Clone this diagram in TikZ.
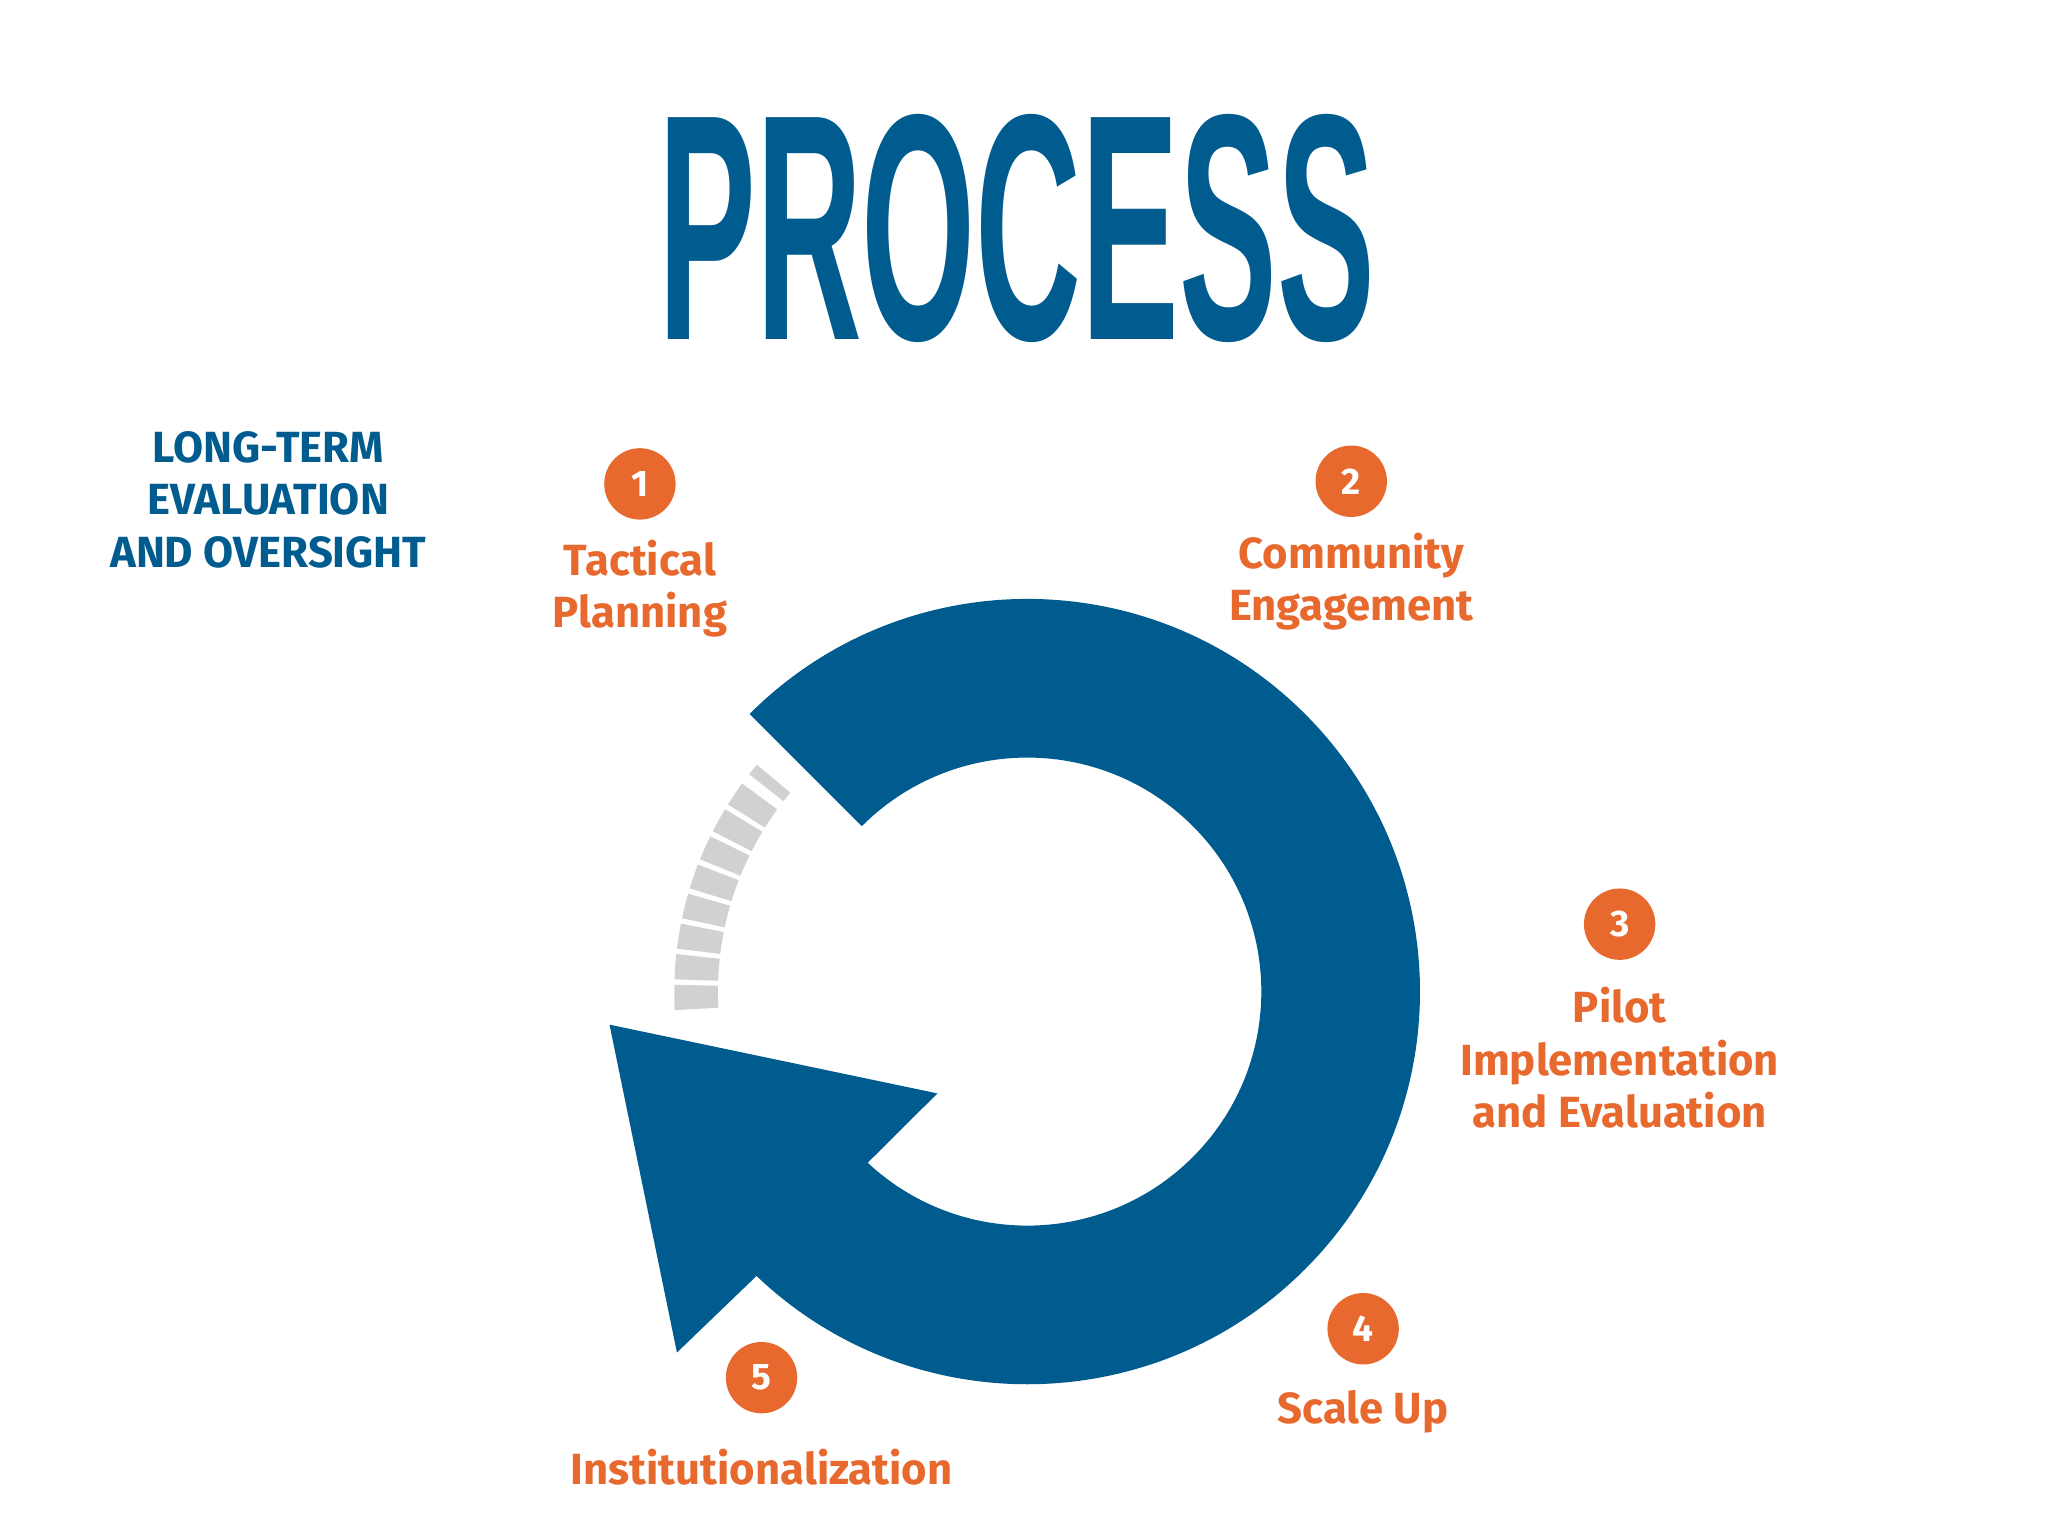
\documentclass[tikz,border=0pt]{standalone}
\usepackage{fontspec}
\usetikzlibrary{calc}
\setmainfont{Fira Sans}
\newfontfamily\titlefont{Liberation Sans}
\definecolor{pblue}{HTML}{005C8F}
\definecolor{porange}{HTML}{E8692D}
\definecolor{pgray}{HTML}{D0D1D3}
\begin{document}
\begin{tikzpicture}[x=1pt,y=1pt,
  badge/.style={circle,fill=porange,minimum size=54pt,inner sep=0pt,text=white,font=\fontsize{28}{28}\selectfont\bfseries},
  lbl/.style={text=porange,align=center,font=\fontsize{33}{39.5}\selectfont\bfseries},
  graysg/.style={fill=pgray}]
\useasboundingbox (0,0) rectangle (1549,1161);
\fill[white] (0,0) rectangle (1549,1161);
\node (title) at (769,988) {\resizebox{542pt}{170pt}{\titlefont\bfseries\color{pblue}PROCESS}};
\coordinate (c) at (777,411);
\fill[pblue] ($(c)+(135:297)$) arc[start angle=135,end angle=-133.6,radius=297] -- (512,138) -- (461,386) -- (709,334) -- ($(c)+(-133:177)$) arc[start angle=-133,end angle=135,radius=177] -- cycle;
\foreach \a in {0,...,7}{
  \pgfmathsetmacro{\s}{183-\a*5}
  \pgfmathsetmacro{\e}{\s-4.1}
  \fill[graysg] ($(c)+(\s:234)$) arc[start angle=\s,end angle=\e,radius=234] -- ($(c)+(\e:267)$) arc[start angle=\e,end angle=\s,radius=267] -- cycle;
}
\fill[graysg] ($(c)+(142:234)$) arc[start angle=142,end angle=140,radius=234] -- ($(c)+(140:267)$) arc[start angle=140,end angle=142,radius=267] -- cycle;
\node[text=pblue,align=center,font=\fontsize{33}{39.5}\selectfont\bfseries] (lt) at (203,783) {LONG-TERM\\EVALUATION\\AND OVERSIGHT};
\node[badge] (b1) at (484,795) {1};
\node[lbl] (l1) at (484,716) {Tactical\\Planning};
\node[badge] (b2) at (1022,797) {2};
\node[lbl] (l2) at (1022,721) {Community\\Engagement};
\node[badge] (b3) at (1225,462) {3};
\node[lbl] (l3) at (1225,361) {Pilot\\Implementation\\and Evaluation};
\node[badge] (b4) at (1031,156) {4};
\node[lbl] (l4) at (1031,93) {Scale Up};
\node[badge] (b5) at (576,119) {5};
\node[lbl] (l5) at (576,51) {Institutionalization};
\end{tikzpicture}
\end{document}
